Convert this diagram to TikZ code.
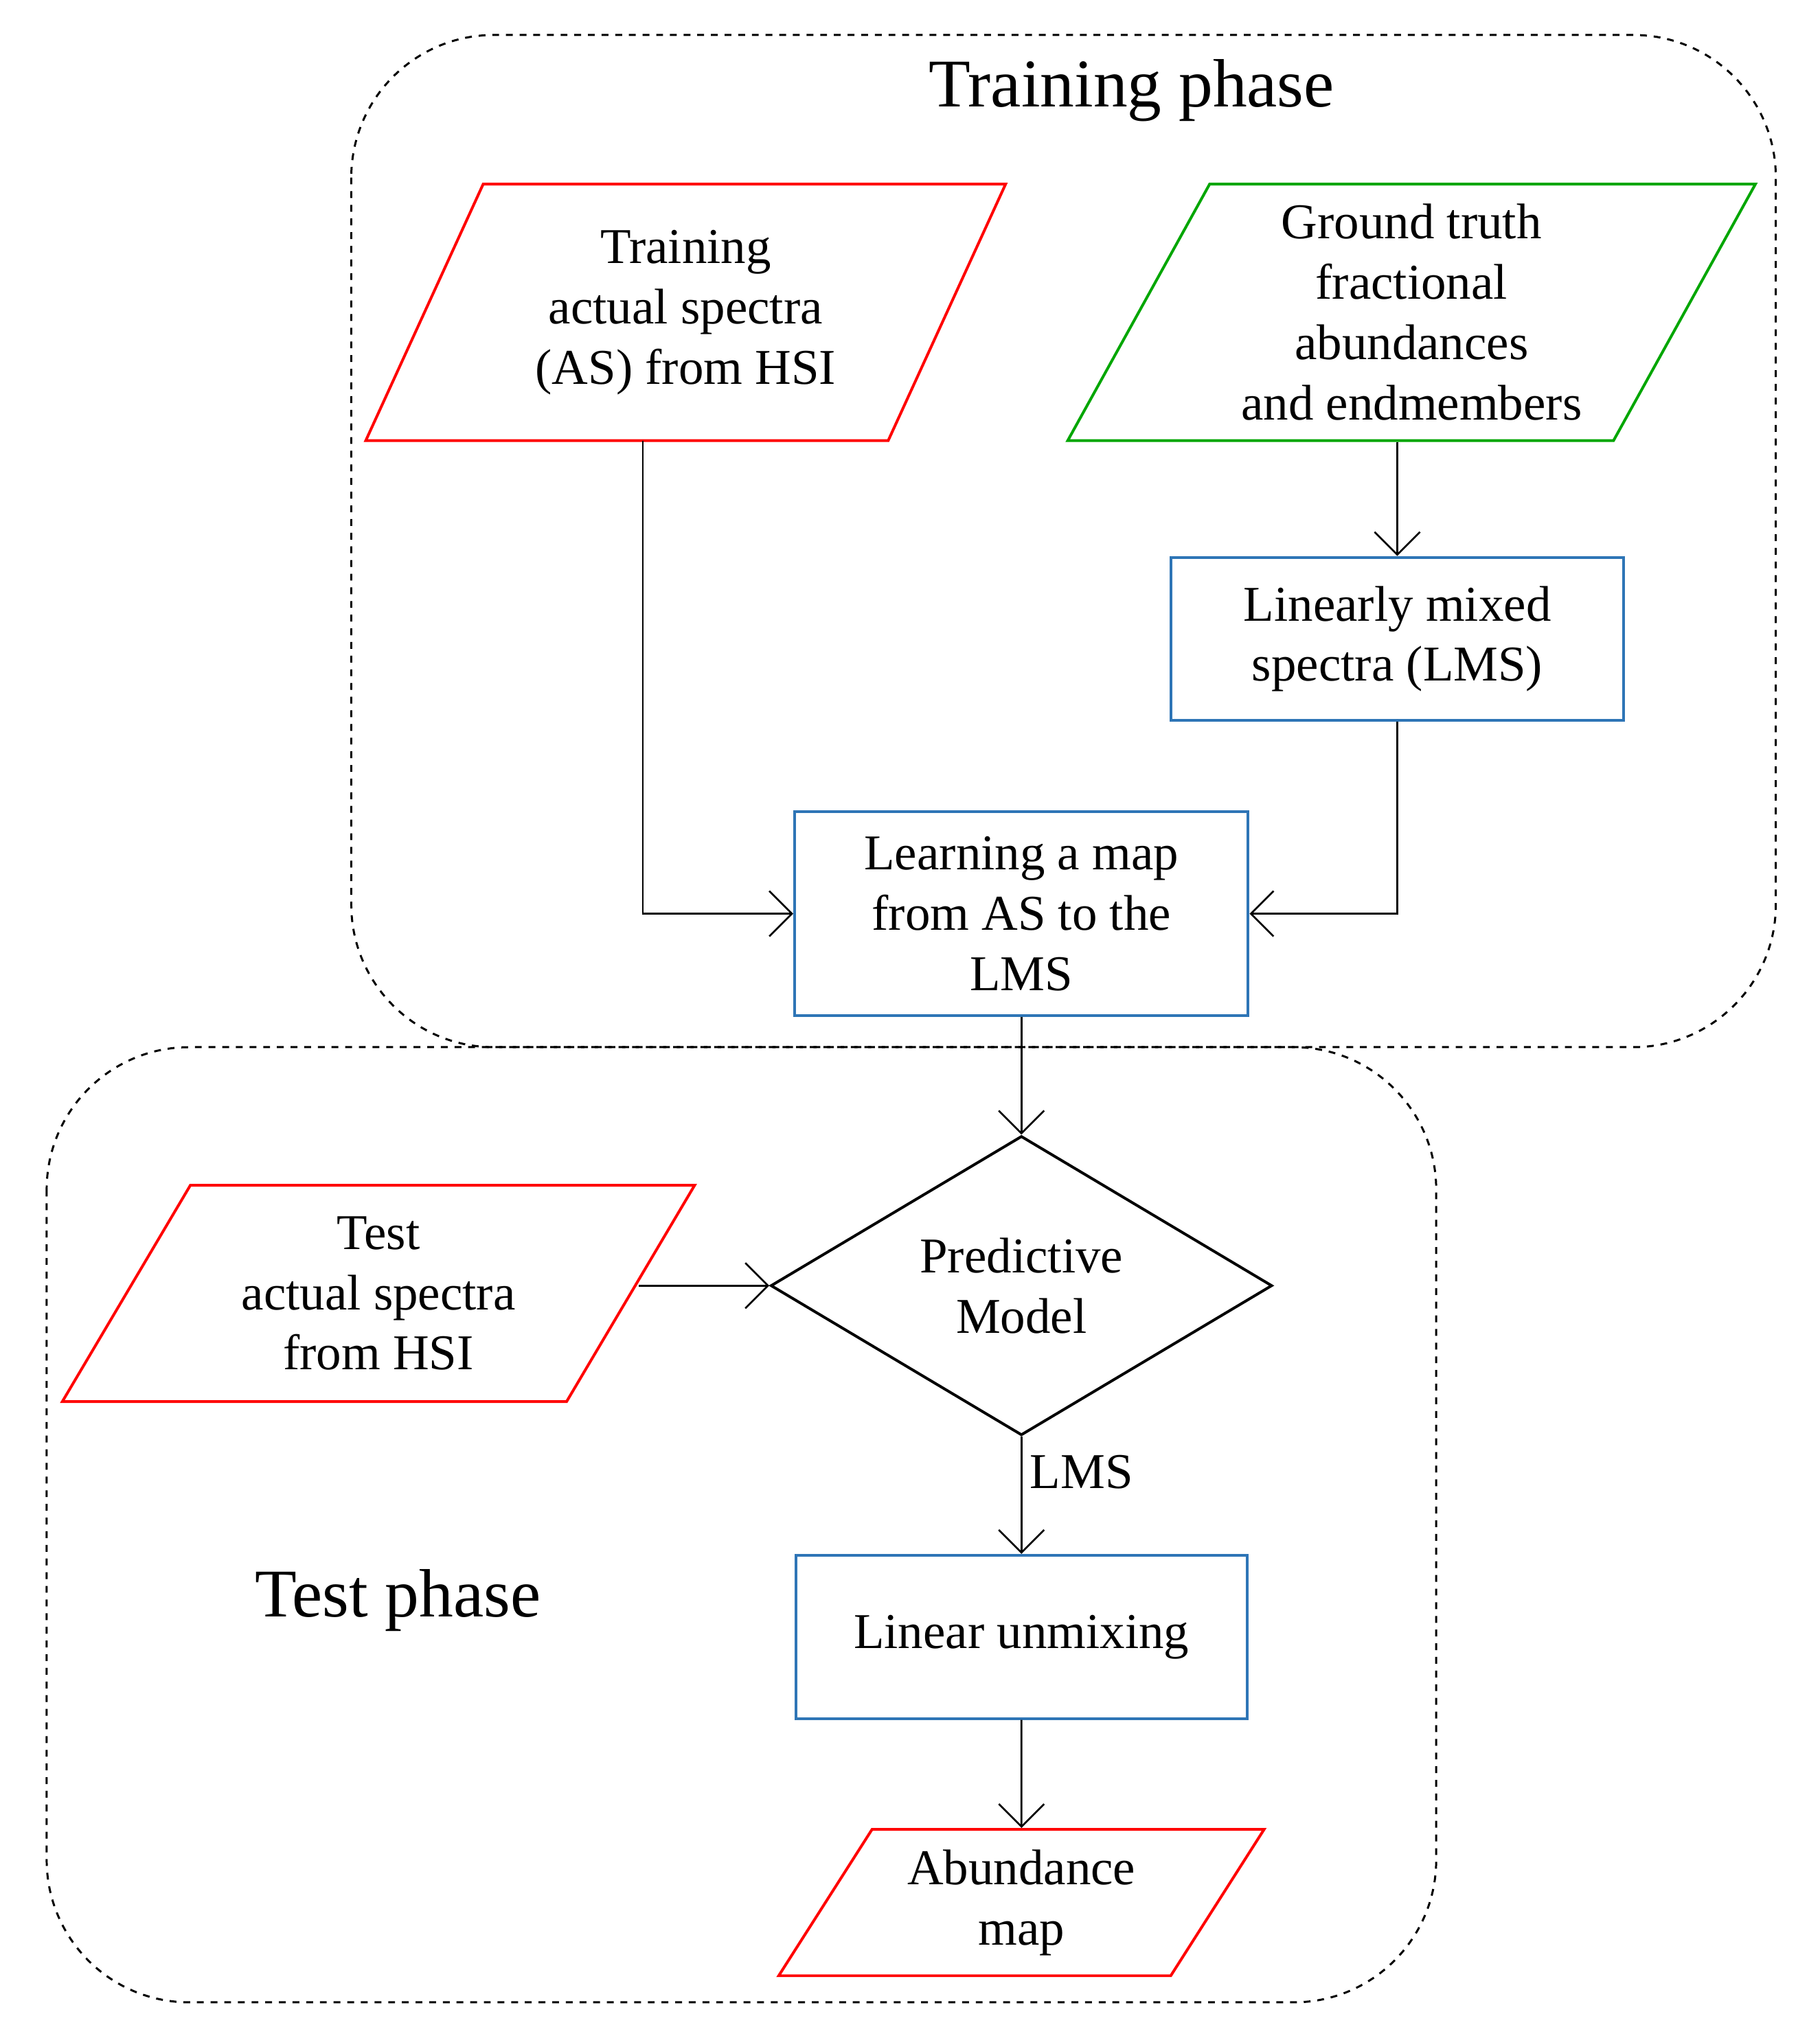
\documentclass[tikz,border=0pt]{standalone}
\usepackage{fontspec}
\setmainfont{Liberation Serif}
\usetikzlibrary{shapes.geometric, arrows.meta}
\tikzstyle{io} = [trapezium,
trapezium stretches=true,
text centered, align=center,
line width=1.2pt]
\tikzstyle{process} = [rectangle,
text centered, align=center,
draw={rgb,255:red,46;green,117;blue,182},
line width=1.2pt]
\tikzstyle{decision} = [diamond,
text centered, align=center,
draw=black, line width=1.2pt]
\tikzstyle{phase} = [draw, dashed, rounded corners=2.2cm, line width=0.9pt]
\tikzstyle{arrow} = [line width=0.8pt,->,>={Straight Barb[length=3.5mm,width=7mm]}]

\begin{document}
\begin{tikzpicture}[x=0.02cm, y=-0.02cm, font=\fontsize{22}{26.5}\selectfont]
    \useasboundingbox (0,0) rectangle (1404,1571);

    \draw[phase] (271,27) rectangle (1370,808);
    \draw[phase] (36,808) rectangle (1108,1545);
    \node (trainlabel) at (873,70) {\fontsize{30}{34}\selectfont Training phase};
    \node (testlabel) at (307,1235) {\fontsize{30}{34}\selectfont Test phase};

    \node (as) [io, draw=red, trapezium left angle=63, trapezium right angle=117,
        minimum width=9.88cm, minimum height=3.96cm] at (529,241)
        {Training\\actual spectra\\(AS) from HSI};
    \node (gt) [io, draw=green!65!black, trapezium left angle=61.6, trapezium right angle=118.4,
        minimum width=10.62cm, minimum height=3.96cm] at (1089,241)
        {Ground truth\\fractional\\abundances\\and endmembers};
    \node (lms) [process, minimum width=6.98cm, minimum height=2.52cm] at (1078,493)
        {Linearly mixed\\spectra (LMS)};
    \node (learn) [process, minimum width=7cm, minimum height=3.14cm] at (788,705)
        {Learning a map\\from AS to the\\LMS};
    \node (model) [decision, minimum width=7.74cm, minimum height=4.62cm, aspect=1.675,
        inner sep=0pt] at (788,992) {Predictive\\Model};
    \node (test) [io, draw=red, trapezium left angle=59.8, trapezium right angle=120.2,
        minimum width=9.76cm, minimum height=3.34cm] at (292,998)
        {Test\\actual spectra\\from HSI};
    \node (unmix) [process, minimum width=6.96cm, minimum height=2.52cm] at (788,1263)
        {Linear unmixing};
    \node (abund) [io, draw=red, trapezium left angle=56, trapezium right angle=124,
        minimum width=7.5cm, minimum height=2.26cm, inner sep=0pt] at (788,1468)
        {Abundance\\map};

    \coordinate (asout) at (496,340);
    \coordinate (testout) at (493,992);

    \draw [arrow] (asout) |- (learn.west);
    \draw [arrow] (gt.south -| lms.north) -- (lms.north);
    \draw [arrow] (lms.south) |- (learn.east);
    \draw [arrow] (learn.south) -- (model.north);
    \draw [arrow] (testout) -- (model.west);
    \draw [arrow] (model.south) -- node[anchor=west, pos=0.3] {LMS} (unmix.north);
    \draw [arrow] (unmix.south) -- (abund.north);
\end{tikzpicture}
\end{document}
